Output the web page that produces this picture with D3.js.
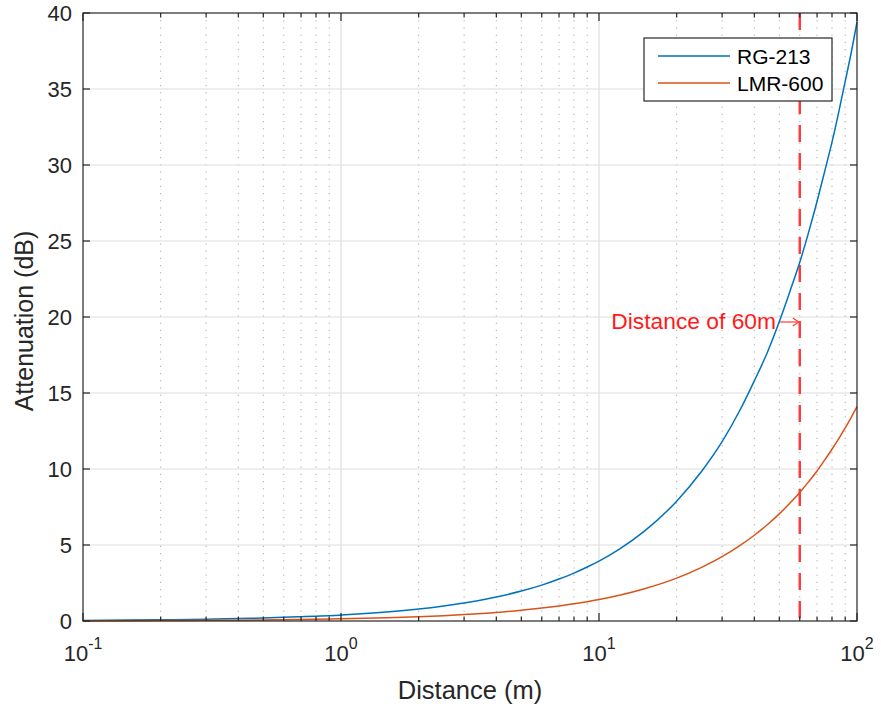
<!DOCTYPE html>
<html><head><meta charset="utf-8">
<script src="https://cdn.jsdelivr.net/npm/d3@7"></script>
<style>body{margin:0;background:#fff;} svg{display:block;} text{font-family:"Liberation Sans",Arial,sans-serif;}</style>
</head><body><svg id="c" width="881" height="707"></svg>
<script>
const distances = [0.1,0.15,0.2,0.3,0.4,0.5,0.6,0.7,0.8,0.9,1,1.5,2,2.5,3,4,5,6,7,8,9,10,12,15,20,25,30,35,40,45,50,55,60,65,70,75,80,85,90,95,100];
const rg213 = [0.04,0.06,0.08,0.12,0.16,0.20,0.24,0.28,0.32,0.35,0.39,0.59,0.79,0.99,1.18,1.58,1.97,2.36,2.76,3.15,3.55,3.94,4.73,5.91,7.88,9.85,11.8,13.8,15.8,17.7,19.7,21.7,23.6,25.6,27.6,29.6,31.5,33.5,35.5,37.4,39.4];
const lmr600 = [0.014,0.021,0.028,0.042,0.056,0.07,0.085,0.099,0.113,0.127,0.141,0.21,0.28,0.35,0.42,0.56,0.71,0.85,0.99,1.13,1.27,1.41,1.69,2.12,2.82,3.53,4.23,4.94,5.64,6.35,7.05,7.76,8.46,9.17,9.87,10.6,11.3,12.0,12.7,13.4,14.1];
const seriesNames = ["RG-213","LMR-600"];
const seriesColors = ["#0072BD","#D95319"];
const yTicks = [0,5,10,15,20,25,30,35,40];
const xDecades = [-1,0,1,2];
const markerDistance = 60;
const annotationText = "Distance of 60m";
const xLabel = "Distance (m)";
const yLabel = "Attenuation (dB)";

const L=83,R=857,T=13,B=621;
const svg=d3.select("#c");
const x=d3.scaleLog().domain([0.1,100]).range([L,R]);
const y=d3.scaleLinear().domain([0,40]).range([B,T]);
const axisCol="#262626";

// minor dotted grid
const minor=[];
for(let e=-1;e<2;e++) for(let m=2;m<=9;m++) minor.push(m*Math.pow(10,e));
svg.append("g").selectAll("line").data(minor).join("line")
  .attr("x1",d=>x(d)).attr("x2",d=>x(d)).attr("y1",T).attr("y2",B)
  .attr("stroke","#a8a8a8").attr("stroke-width",1).attr("stroke-dasharray","1.2,6");
// major grid
svg.append("g").selectAll("line").data(xDecades.slice(1,3)).join("line")
  .attr("x1",d=>x(Math.pow(10,d))).attr("x2",d=>x(Math.pow(10,d))).attr("y1",T).attr("y2",B)
  .attr("stroke","#dedede").attr("stroke-width",1.2);
svg.append("g").selectAll("line").data(yTicks.slice(1,-1)).join("line")
  .attr("x1",L).attr("x2",R).attr("y1",d=>y(d)).attr("y2",d=>y(d))
  .attr("stroke","#dedede").attr("stroke-width",1.2);

// dashed marker
svg.append("line").attr("x1",x(markerDistance)).attr("x2",x(markerDistance)).attr("y1",T).attr("y2",B)
  .attr("stroke","#ff3b3b").attr("stroke-width",2.5).attr("stroke-dasharray","17,11");

// series
const line=d3.line().x(d=>x(d[0])).y(d=>y(d[1])).curve(d3.curveMonotoneX);
[rg213,lmr600].forEach((s,i)=>{
  svg.append("path").datum(distances.map((d,j)=>[d,s[j]])).attr("d",line)
    .attr("fill","none").attr("stroke",seriesColors[i]).attr("stroke-width",1.5);
});

// axes box
svg.append("rect").attr("x",L).attr("y",T).attr("width",R-L).attr("height",B-T)
  .attr("fill","none").attr("stroke",axisCol).attr("stroke-width",1.2);
// ticks
const tg=svg.append("g").attr("stroke",axisCol).attr("stroke-width",1.2);
xDecades.forEach(e=>{const px=x(Math.pow(10,e));
  tg.append("line").attr("x1",px).attr("x2",px).attr("y1",B).attr("y2",B-8);
  tg.append("line").attr("x1",px).attr("x2",px).attr("y1",T).attr("y2",T+8);});
minor.forEach(d=>{const px=x(d);
  tg.append("line").attr("x1",px).attr("x2",px).attr("y1",B).attr("y2",B-4.5);
  tg.append("line").attr("x1",px).attr("x2",px).attr("y1",T).attr("y2",T+4.5);});
yTicks.forEach(d=>{const py=y(d);
  tg.append("line").attr("x1",L).attr("x2",L+7).attr("y1",py).attr("y2",py);
  tg.append("line").attr("x1",R).attr("x2",R-7).attr("y1",py).attr("y2",py);});

// y tick labels
svg.append("g").selectAll("text").data(yTicks).join("text")
  .attr("x",72).attr("y",d=>y(d)+8).attr("text-anchor","end")
  .attr("font-size",22).attr("fill",axisCol).text(d=>d);
// x tick labels
xDecades.forEach(e=>{
  const t=svg.append("text").attr("x",x(Math.pow(10,e))).attr("y",661).attr("text-anchor","middle")
    .attr("font-size",22).attr("fill",axisCol);
  t.append("tspan").text("10");
  t.append("tspan").attr("font-size",16).attr("dy",-12).text(e);
});
// axis labels
svg.append("text").attr("x",470).attr("y",699).attr("text-anchor","middle").attr("font-size",25.5)
  .attr("fill",axisCol).text(xLabel);
svg.append("text").attr("transform","translate(33,321) rotate(-90)").attr("text-anchor","middle")
  .attr("font-size",25).attr("fill",axisCol).text(yLabel);

// annotation
svg.append("text").attr("x",776).attr("y",329).attr("text-anchor","end").attr("font-size",22.8)
  .attr("fill","#ff1a1a").text(annotationText);
const ax=x(markerDistance);
svg.append("line").attr("x1",780).attr("x2",ax-1).attr("y1",322).attr("y2",322).attr("stroke","#ff3b3b").attr("stroke-width",1.2);
svg.append("path").attr("d",`M${ax-7},318 L${ax-1},322 L${ax-7},326`).attr("fill","none").attr("stroke","#ff3b3b").attr("stroke-width",1.2);

// legend
const lg=svg.append("g");
lg.append("rect").attr("x",644).attr("y",38).attr("width",188).attr("height",63).attr("fill","#fff").attr("stroke",axisCol).attr("stroke-width",1.2);
seriesNames.forEach((n,i)=>{const py=56+i*27;
  lg.append("line").attr("x1",658).attr("x2",730).attr("y1",py).attr("y2",py).attr("stroke",seriesColors[i]).attr("stroke-width",1.5);
  lg.append("text").attr("x",737).attr("y",py+7.5).attr("font-size",21).attr("fill","#000").text(n);
});
</script></body></html>
